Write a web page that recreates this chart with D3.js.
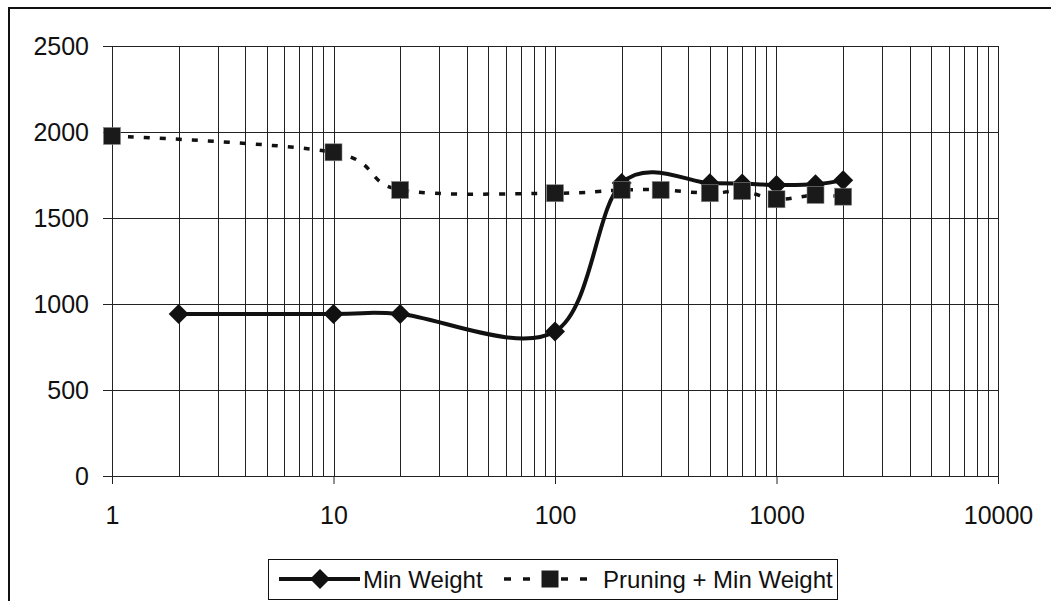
<!DOCTYPE html>
<html>
<head>
<meta charset="utf-8">
<script src="https://d3js.org/d3.v7.min.js"></script>
<style>
  body { margin: 0; background: #fff; }
  svg text { font-family: "Liberation Sans", Arial, sans-serif; fill: #111; }
</style>
</head>
<body>
<svg width="1051" height="601"></svg>
<script>
// Min Weight series (solid, diamonds)
const mwX = [2, 10, 20, 100, 200, 500, 700, 1000, 1500, 2000];
const mwY = [942, 942, 942, 840, 1703, 1702, 1700, 1692, 1696, 1720];
// Pruning + Min Weight series (dashed, squares)
const prX = [1, 10, 20, 100, 200, 300, 500, 700, 1000, 1500, 2000];
const prY = [1977, 1882, 1663, 1644, 1663, 1663, 1644, 1657, 1609, 1634, 1624];

const xTicks = [1, 10, 100, 1000, 10000];
const yTicks = [0, 500, 1000, 1500, 2000, 2500];
const seriesNames = ["Min Weight", "Pruning + Min Weight"];

const svg = d3.select("svg");
const margin = {top: 46, left: 112, right: 53, bottom: 125};
const width = 1051 - margin.left - margin.right,
      height = 601 - margin.top - margin.bottom;

// outer chart frame (runs off the right and bottom of the picture)
svg.append("rect")
  .attr("x", 9).attr("y", 8)
  .attr("width", 1100).attr("height", 700)
  .attr("fill", "none").attr("stroke", "#111").attr("stroke-width", 2);

const g = svg.append("g").attr("transform", "translate(" + margin.left + "," + margin.top + ")");

const x = d3.scaleLog().domain([1, 10000]).range([0, width]);
const y = d3.scaleLinear().domain([0, 2500]).range([height, 0]);

// vertical grid, major and minor log ticks
const minor = [];
for (let p = 1; p < 10000; p *= 10) {
  for (let k = 1; k <= 10; k++) minor.push(p * k);
}
g.selectAll(".vgrid").data(minor).enter().append("line")
  .attr("x1", d => Math.round(x(d)) + 0.5).attr("x2", d => Math.round(x(d)) + 0.5)
  .attr("y1", 0).attr("y2", height)
  .attr("stroke", "#222").attr("stroke-width", 1);

// horizontal grid
g.selectAll(".hgrid").data(yTicks).enter().append("line")
  .attr("x1", 0).attr("x2", width)
  .attr("y1", d => Math.round(y(d)) + 0.5).attr("y2", d => Math.round(y(d)) + 0.5)
  .attr("stroke", "#222").attr("stroke-width", 1);

// axes
const yAxis = g.append("g")
  .call(d3.axisLeft(y).tickValues(yTicks).tickSize(9).tickPadding(14).tickFormat(d3.format("d")));
const xAxis = g.append("g")
  .attr("transform", "translate(0," + height + ")")
  .call(d3.axisBottom(x).tickValues(xTicks).tickSize(8).tickPadding(22).tickFormat(d3.format("d")));
[xAxis, yAxis].forEach(a => {
  a.select(".domain").attr("stroke", "#222");
  a.selectAll("line").attr("stroke", "#222");
  a.selectAll("text").style("font-size", "25px").attr("fill", "#111");
});
xAxis.selectAll("text").attr("dy", "0.71em");

const curve = d3.curveCardinal.tension(0);
const line = d3.line().x(d => x(d[0])).y(d => y(d[1])).curve(curve);

const mw = mwX.map((v, i) => [v, mwY[i]]);
const pr = prX.map((v, i) => [v, prY[i]]);

g.append("path").datum(mw).attr("d", line)
  .attr("fill", "none").attr("stroke", "#111").attr("stroke-width", 4);
g.append("path").datum(pr).attr("d", line)
  .attr("fill", "none").attr("stroke", "#111").attr("stroke-width", 3.5)
  .attr("stroke-dasharray", "6,10");

const diamond = "M0,-10L10,0L0,10L-10,0Z";
g.selectAll(".dia").data(mw).enter().append("path")
  .attr("d", diamond)
  .attr("transform", d => "translate(" + x(d[0]) + "," + y(d[1]) + ")")
  .attr("fill", "#111");
g.selectAll(".sq").data(pr).enter().append("rect")
  .attr("x", d => x(d[0]) - 8.5).attr("y", d => y(d[1]) - 8.5)
  .attr("width", 17).attr("height", 17)
  .attr("fill", "#1a1a1a").attr("stroke", "#888").attr("stroke-width", 0.6);

// legend
const lg = svg.append("g");
lg.append("rect")
  .attr("x", 268.5).attr("y", 559.5).attr("width", 569).attr("height", 40)
  .attr("fill", "#fff").attr("stroke", "#111").attr("stroke-width", 1);
lg.append("line").attr("x1", 279).attr("x2", 360).attr("y1", 579).attr("y2", 579)
  .attr("stroke", "#111").attr("stroke-width", 4);
lg.append("path").attr("d", diamond).attr("transform", "translate(320,579)").attr("fill", "#111");
lg.append("text").attr("x", 363).attr("y", 588).style("font-size", "24px").text(seriesNames[0]);
lg.append("line").attr("x1", 504).attr("x2", 598).attr("y1", 579).attr("y2", 579)
  .attr("stroke", "#111").attr("stroke-width", 3.5).attr("stroke-dasharray", "7,12");
lg.append("rect").attr("x", 541.5).attr("y", 570.5).attr("width", 17).attr("height", 17)
  .attr("fill", "#1a1a1a");
lg.append("text").attr("x", 603).attr("y", 588).style("font-size", "24px").text(seriesNames[1]);
</script>
</body>
</html>
